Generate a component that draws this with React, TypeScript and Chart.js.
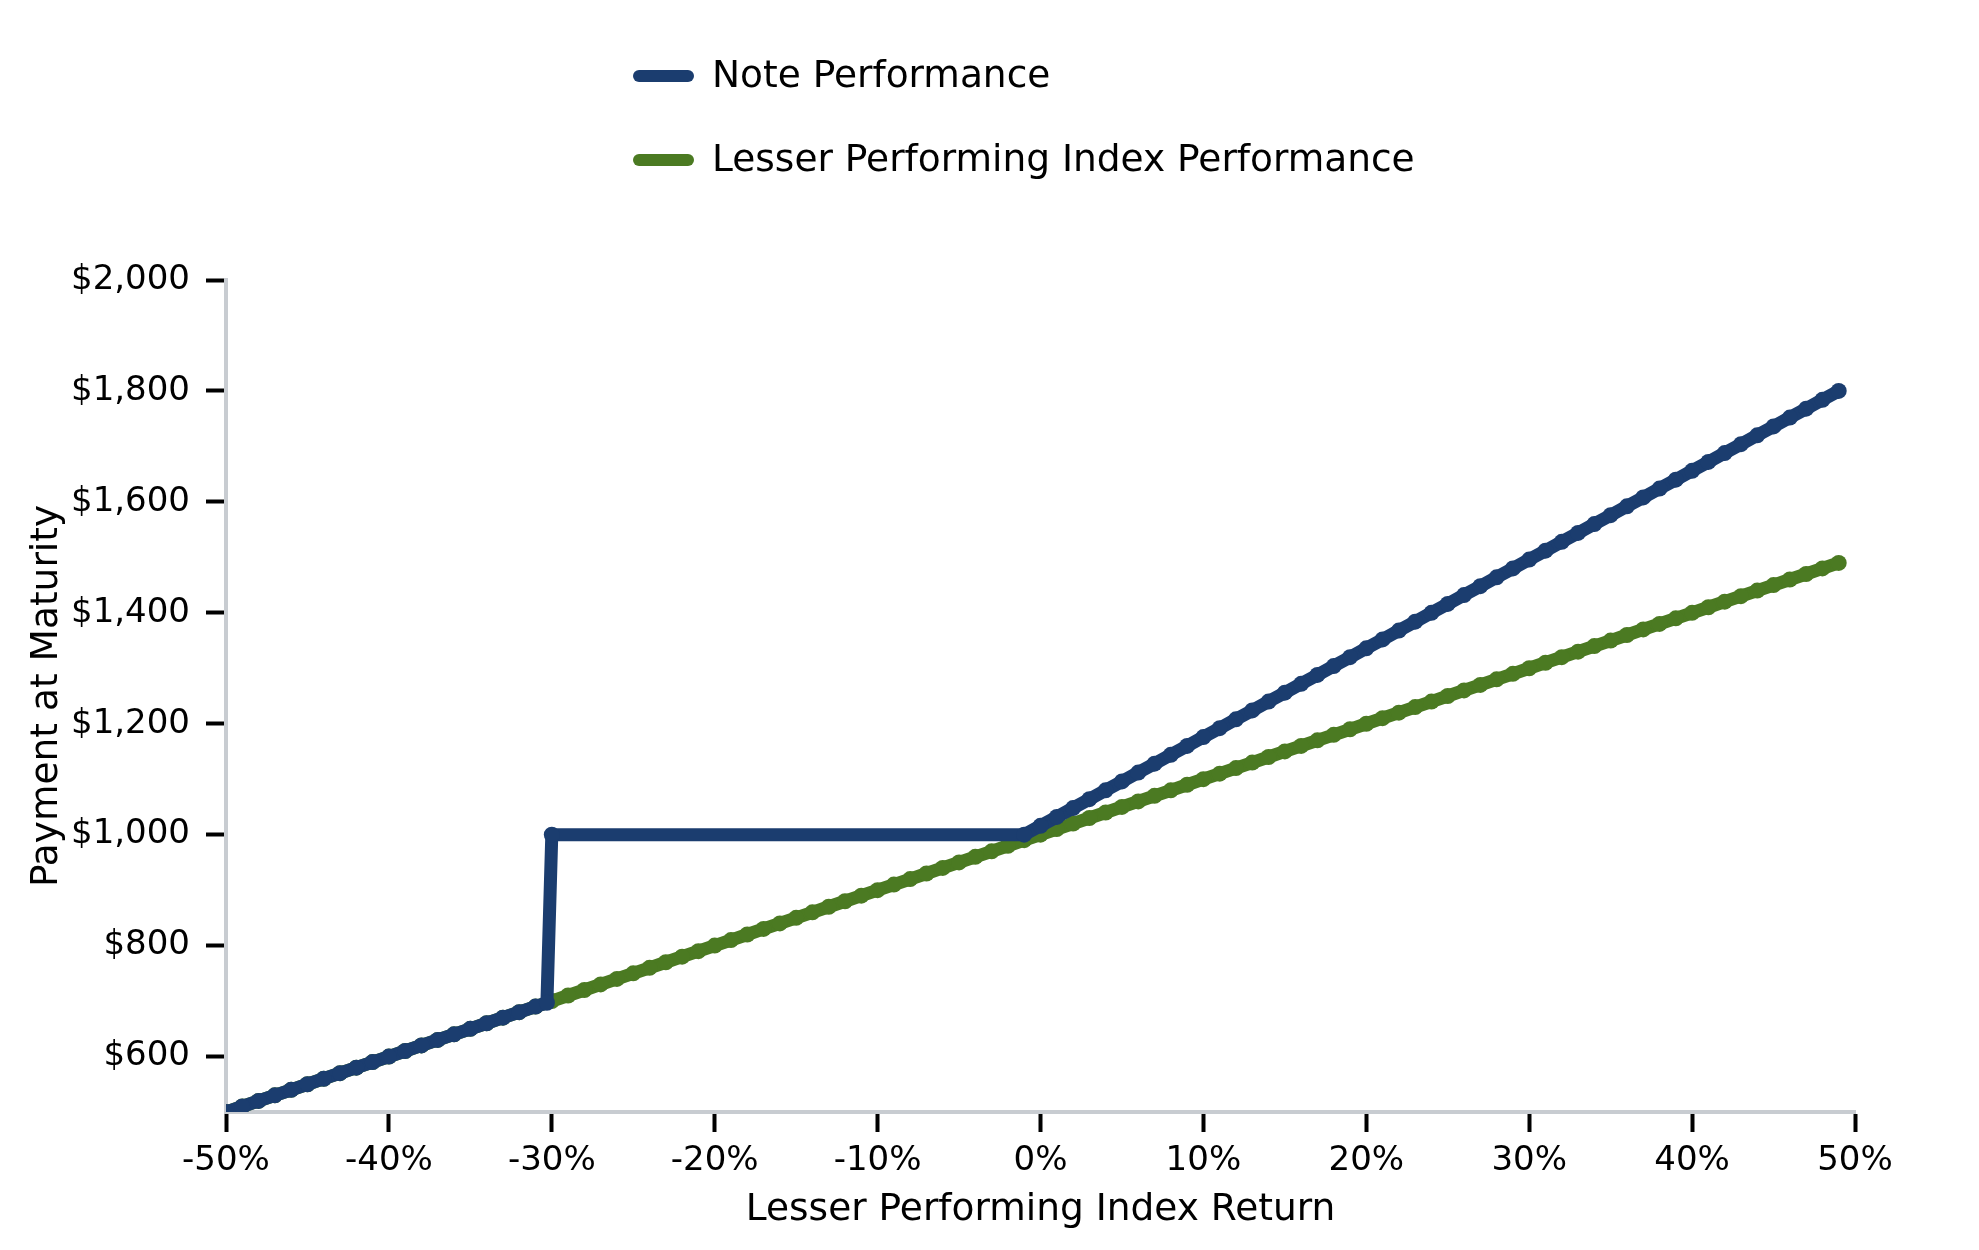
import React, { useEffect, useRef } from "react";
import { Chart, registerables } from "chart.js";

Chart.register(...registerables);

const seriesNames = ["Note Performance", "Lesser Performing Index Performance"];
const seriesColors = ["#1b3d6f", "#4b7a22"];

const indexReturns = [
  -50, -49, -48, -47, -46, -45, -44, -43, -42, -41,
  -40, -39, -38, -37, -36, -35, -34, -33, -32, -31,
  -30, -29, -28, -27, -26, -25, -24, -23, -22, -21,
  -20, -19, -18, -17, -16, -15, -14, -13, -12, -11,
  -10, -9, -8, -7, -6, -5, -4, -3, -2, -1,
  0, 1, 2, 3, 4, 5, 6, 7, 8, 9,
  10, 11, 12, 13, 14, 15, 16, 17, 18, 19,
  20, 21, 22, 23, 24, 25, 26, 27, 28, 29,
  30, 31, 32, 33, 34, 35, 36, 37, 38, 39,
  40, 41, 42, 43, 44, 45, 46, 47, 48, 49,
];
const indexValues = [
  500, 510, 520, 530, 540, 550, 560, 570, 580, 590,
  600, 610, 620, 630, 640, 650, 660, 670, 680, 690,
  700, 710, 720, 730, 740, 750, 760, 770, 780, 790,
  800, 810, 820, 830, 840, 850, 860, 870, 880, 890,
  900, 910, 920, 930, 940, 950, 960, 970, 980, 990,
  1000, 1010, 1020, 1030, 1040, 1050, 1060, 1070, 1080, 1090,
  1100, 1110, 1120, 1130, 1140, 1150, 1160, 1170, 1180, 1190,
  1200, 1210, 1220, 1230, 1240, 1250, 1260, 1270, 1280, 1290,
  1300, 1310, 1320, 1330, 1340, 1350, 1360, 1370, 1380, 1390,
  1400, 1410, 1420, 1430, 1440, 1450, 1460, 1470, 1480, 1490,
];

const noteReturns = [
  -50, -49, -48, -47, -46, -45, -44, -43, -42, -41,
  -40, -39, -38, -37, -36, -35, -34, -33, -32, -31,
  -30.3, -30, -1,
  0, 1, 2, 3, 4, 5, 6, 7, 8, 9,
  10, 11, 12, 13, 14, 15, 16, 17, 18, 19,
  20, 21, 22, 23, 24, 25, 26, 27, 28, 29,
  30, 31, 32, 33, 34, 35, 36, 37, 38, 39,
  40, 41, 42, 43, 44, 45, 46, 47, 48, 49,
];
const noteValues = [
  500, 510, 520, 530, 540, 550, 560, 570, 580, 590,
  600, 610, 620, 630, 640, 650, 660, 670, 680, 690,
  697, 1000, 1000,
  1016, 1032, 1048, 1064, 1080, 1096, 1112, 1128, 1144, 1160,
  1176, 1192, 1208, 1224, 1240, 1256, 1272, 1288, 1304, 1320,
  1336, 1352, 1368, 1384, 1400, 1416, 1432, 1448, 1464, 1480,
  1496, 1512, 1528, 1544, 1560, 1576, 1592, 1608, 1624, 1640,
  1656, 1672, 1688, 1704, 1720, 1736, 1752, 1768, 1784, 1800,
];

const xTicks = [-50, -40, -30, -20, -10, 0, 10, 20, 30, 40, 50];
const yTicks = [600, 800, 1000, 1200, 1400, 1600, 1800, 2000];

const xTitle = "Lesser Performing Index Return";
const yTitle = "Payment at Maturity";

const FONT = "'DejaVu Sans', 'Noto Sans', sans-serif";

export default function App() {
  const ref = useRef<HTMLCanvasElement | null>(null);

  useEffect(() => {
    if (!ref.current) return;

    const stackedLegend = {
      id: "stackedLegend",
      afterDraw(chart: any) {
        const ctx = chart.ctx;
        ctx.save();
        chart.data.datasets.forEach((ds: any, i: number) => {
          const y = 76 + i * 84;
          ctx.strokeStyle = ds.borderColor;
          ctx.lineWidth = 12;
          ctx.lineCap = "round";
          ctx.beginPath();
          ctx.moveTo(639, y);
          ctx.lineTo(688, y);
          ctx.stroke();
          ctx.fillStyle = "#000";
          ctx.font = `37.5px ${FONT}`;
          ctx.textAlign = "left";
          ctx.textBaseline = "middle";
          ctx.fillText(ds.label, 712, y + 1);
        });
        ctx.restore();
      },
    };

    const noteData = noteReturns.map((x, i) => ({ x, y: noteValues[i] }));
    const indexData = indexReturns.map((x, i) => ({ x, y: indexValues[i] }));

    const lineStyle = (color: string) => ({
      borderColor: color,
      backgroundColor: color,
      borderWidth: 13,
      pointRadius: 8,
      pointBorderWidth: 0,
      pointBackgroundColor: color,
      borderJoinStyle: "round" as const,
      borderCapStyle: "round" as const,
      tension: 0,
    });

    const chart = new Chart(ref.current, {
      type: "line",
      data: {
        datasets: [
          { label: seriesNames[0], data: noteData, ...lineStyle(seriesColors[0]) },
          { label: seriesNames[1], data: indexData, ...lineStyle(seriesColors[1]) },
        ],
      },
      options: {
        animation: false,
        responsive: true,
        maintainAspectRatio: false,
        devicePixelRatio: 1,
        layout: { padding: { top: 280, right: 124, bottom: 17, left: 25 } },
        plugins: {
          legend: { display: false },
          tooltip: { enabled: false },
        },
        scales: {
          x: {
            type: "linear",
            min: -50,
            max: 50,
            afterBuildTicks: (scale: any) => {
              scale.ticks = xTicks.map((v) => ({ value: v }));
            },
            afterFit: (scale: any) => {
              scale.height = 121;
            },
            grid: {
              drawOnChartArea: false,
              drawTicks: true,
              tickLength: 20,
              tickColor: "#000",
              tickWidth: 4,
            },
            border: { display: true, color: "#c8ccd1", width: 4 },
            ticks: {
              color: "#000",
              font: { family: FONT, size: 34 },
              padding: 9,
              maxRotation: 0,
              callback: (v: any) => `${v}%`,
            },
            title: {
              display: true,
              text: xTitle,
              color: "#000",
              font: { family: FONT, size: 37.5 },
              padding: 0,
            },
          },
          y: {
            type: "linear",
            min: 500,
            max: 2000,
            afterBuildTicks: (scale: any) => {
              scale.ticks = yTicks.map((v) => ({ value: v }));
            },
            afterFit: (scale: any) => {
              scale.width = 201;
            },
            grid: {
              drawOnChartArea: false,
              drawTicks: true,
              tickLength: 20,
              tickColor: "#000",
              tickWidth: 4,
            },
            border: { display: true, color: "#c8ccd1", width: 4 },
            ticks: {
              color: "#000",
              font: { family: FONT, size: 34 },
              padding: 16,
              callback: (v: any) => "$" + Number(v).toLocaleString("en-US"),
            },
            title: {
              display: true,
              text: yTitle,
              color: "#000",
              font: { family: FONT, size: 37.5 },
              padding: 0,
            },
          },
        },
      },
      plugins: [stackedLegend],
    });

    return () => chart.destroy();
  }, []);

  return (
    <div
      style={{
        position: "fixed",
        left: 0,
        top: 0,
        width: 1979,
        height: 1250,
        background: "#fff",
      }}
    >
      <canvas ref={ref} />
    </div>
  );
}
